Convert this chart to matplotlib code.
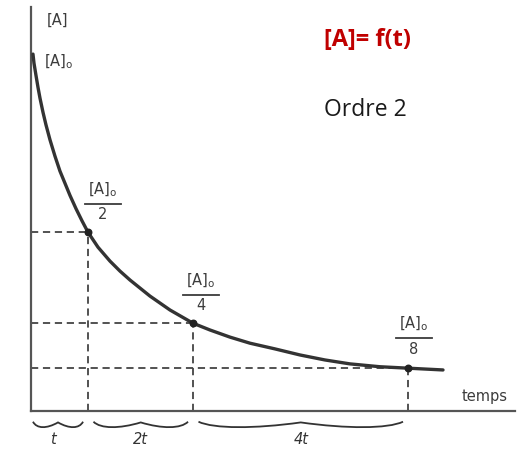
import matplotlib
matplotlib.use("Agg")
import matplotlib.pyplot as plt
from matplotlib.path import Path
from matplotlib.patches import PathPatch
from matplotlib.lines import Line2D

# ---- data (time in units of first half-life, [A] in units of [A]0)
curve_t = [0.0, 0.018, 0.055, 0.091, 0.127, 0.182, 0.236, 0.309, 0.4, 0.491, 0.582,
           0.673, 0.782, 0.891, 1.0, 1.182, 1.4, 1.582, 1.764, 2.127, 2.491, 2.909,
           3.218, 3.582, 3.945, 4.4, 4.855, 5.309, 5.764, 6.309, 6.818, 7.455]
curve_A = [1.0, 0.975, 0.940, 0.907, 0.877, 0.837, 0.802, 0.760, 0.714, 0.672, 0.638,
           0.604, 0.567, 0.533, 0.501, 0.459, 0.420, 0.392, 0.367, 0.322, 0.283, 0.246,
           0.227, 0.207, 0.190, 0.174, 0.157, 0.143, 0.132, 0.124, 0.12, 0.115]
half_t = [1.0, 2.909, 6.818]
half_A = [0.501, 0.246, 0.12]
half_den = ["2", "4", "8"]
brace_labels = ["t", "2t", "4t"]

W, H = 528, 452
fig = plt.figure(figsize=(W / 100, H / 100), dpi=100)
ax = fig.add_axes([31 / W, 1 - 412 / H, (515 - 31) / W, (412 - 8) / H])
ax.set_xlim(-0.036, 8.764)
ax.set_ylim(0, 1.132)
for s in ["top", "right"]:
    ax.spines[s].set_visible(False)
for s in ["left", "bottom"]:
    ax.spines[s].set_color("#555555")
    ax.spines[s].set_linewidth(1.6)
ax.set_xticks([])
ax.set_yticks([])

dk = "#333333"
# dashed guides
for tx, ay in zip(half_t, half_A):
    ax.plot([-0.036, tx], [ay, ay], ls=(0, (4, 2.6)), color="#444444", lw=1.3, zorder=2)
    ax.plot([tx, tx], [0, ay], ls=(0, (4, 2.6)), color="#444444", lw=1.3, zorder=2)

ax.plot(curve_t, curve_A, color=dk, lw=2.4, solid_capstyle="round",
        solid_joinstyle="round", zorder=3)
ax.scatter(half_t, half_A, s=22, color="#222222", zorder=4)

# braces under the time axis
marks = [0.0] + half_t
def brace(x0, x1, yt, yb, yc):
    xm = (x0 + x1) / 2
    w = xm - x0
    verts = [(x0, yt), (x0 + 0.15 * w, yb), (xm - 0.45 * w, yb), (xm, yc),
             (xm + 0.45 * w, yb), (x1 - 0.15 * w, yb), (x1, yt)]
    codes = [Path.MOVETO] + [Path.CURVE4] * 6
    return PathPatch(Path(verts, codes), fill=False, lw=1.3, ec=dk, clip_on=False)

for i in range(3):
    pad0 = 0.0 if i == 0 else 0.1
    x0 = marks[i] + pad0
    x1 = marks[i + 1] - 0.09
    ax.add_patch(brace(x0, x1, -0.030, -0.050, -0.032))
    ax.text((x0 + x1) / 2 - (0.1 if i == 0 else 0), -0.078, brace_labels[i],
            ha="center", va="center", fontsize=10.5, style="italic",
            color="#333333", clip_on=False)

txtc = "#3c3c3c"
fs = 10.5
def ftext(x, y, s, **kw):
    fig.text(x / W, 1 - y / H, s, **kw)

ftext(47, 20, "[A]", fontsize=fs, color=txtc, ha="left", va="center")
ftext(44, 62, r"[A]$_\mathrm{o}$", fontsize=fs, color=txtc, ha="left", va="center")

frac_pos = [(103, 205), (201, 296), (414, 339)]
for (cx, ly), den in zip(frac_pos, half_den):
    ftext(cx, ly - 15, r"[A]$_\mathrm{o}$", fontsize=fs, color=txtc, ha="center", va="center")
    fig.add_artist(Line2D([(cx - 18) / W, (cx + 18) / W], [1 - ly / H, 1 - ly / H],
                          transform=fig.transFigure, color=txtc, lw=1.3))
    ftext(cx, ly + 10, den, fontsize=fs, color=txtc, ha="center", va="center")

ftext(485, 397, "temps", fontsize=fs, color=txtc, ha="center", va="center")

ftext(367, 40, "[A]= f(t)", fontsize=17, fontweight="bold", color="#c00000",
      ha="center", va="center", family="Open Sans")
ftext(365, 110, "Ordre 2", fontsize=16.5, color="#1a1a1a", ha="center", va="center",
      family="Open Sans")

fig.savefig("out.png", dpi=100)
